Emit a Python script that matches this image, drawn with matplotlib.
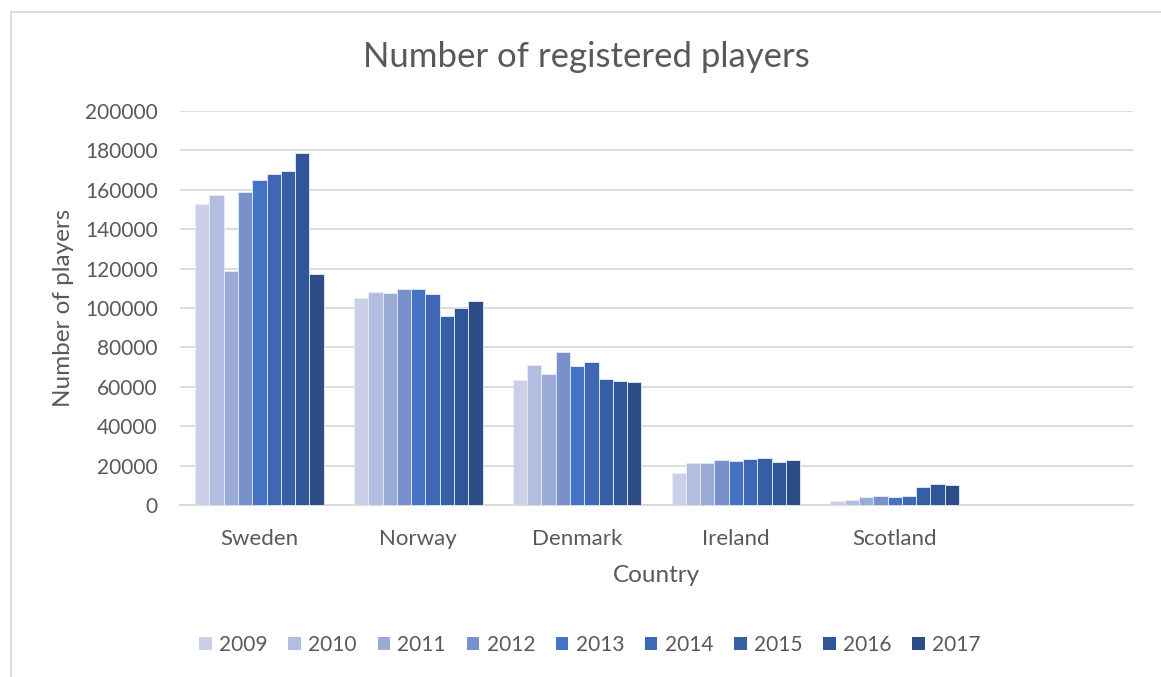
import numpy as np
import matplotlib
matplotlib.use("Agg")
import matplotlib.pyplot as plt
from matplotlib.lines import Line2D
from matplotlib.patches import Patch

countries = ["Sweden", "Norway", "Denmark", "Ireland", "Scotland"]
years = ["2009", "2010", "2011", "2012", "2013", "2014", "2015", "2016", "2017"]

# players per year, one list per year (Sweden, Norway, Denmark, Ireland, Scotland)
players = {
    "2009": [152600, 105100, 63500, 16400, 2000],
    "2010": [157400, 108100, 71100, 21300, 2500],
    "2011": [118800, 107600, 66500, 21300, 4000],
    "2012": [159000, 109800, 77700, 22800, 4500],
    "2013": [165100, 109800, 70600, 22500, 4000],
    "2014": [167900, 106900, 72600, 23200, 4700],
    "2015": [169700, 96100, 64000, 24000, 9100],
    "2016": [178700, 100000, 63100, 21700, 10800],
    "2017": [117400, 103600, 62300, 22700, 10300],
}
y_ticks = list(range(0, 200001, 20000))

colors = ["#CBD0E8", "#B2BDDF", "#9AABD6", "#7891CC", "#4472C4",
          "#3E67B6", "#375FA6", "#30569A", "#2C4D88"]
text_col = "#595959"
grid_col = "#D9D9D9"

plt.rcParams["font.family"] = ["Lato", "DejaVu Sans"]

fig = plt.figure(figsize=(11.61, 6.77), dpi=100)
ax = fig.add_axes([180 / 1161, 1 - 505 / 677, (1133 - 180) / 1161, (505 - 111) / 677])

n = len(years)
width = 0.81 / n
x = np.arange(len(countries))
for i, yr in enumerate(years):
    ax.bar(x - 0.405 + width * (i + 0.5), players[yr], width,
           color=colors[i], edgecolor="#E8ECF6", linewidth=0.6, zorder=3, label=yr)

# Excel leaves an extra empty category slot on the right
ax.set_xlim(-0.5, len(countries) + 0.5)
ax.set_ylim(0, 200000)
ax.set_yticks(y_ticks)
ax.set_yticklabels([str(v) for v in y_ticks])
ax.set_xticks(x)
ax.set_xticklabels(countries)

ax.grid(axis="y", color=grid_col, linewidth=1.3, zorder=0)
for s in ["top", "right", "left"]:
    ax.spines[s].set_visible(False)
ax.spines["bottom"].set_color(grid_col)
ax.spines["bottom"].set_linewidth(1.3)
ax.tick_params(length=0, colors=text_col)
ax.tick_params(axis="y", pad=16, labelsize=15)
ax.tick_params(axis="x", pad=17, labelsize=16)

ax.set_xlabel("Country", fontsize=17.5, color=text_col, labelpad=12)
ax.set_ylabel("Number of players", fontsize=17.5, color=text_col, labelpad=8)

fig.text(0.505, 1 - 57 / 677, "Number of registered players", ha="center", va="center",
         fontsize=25, color=text_col)

handles = [Patch(facecolor=c, edgecolor="none") for c in colors]
fig.legend(handles, years, loc="center", bbox_to_anchor=(590 / 1161, 1 - 645 / 677), ncol=n,
           frameon=False, fontsize=15, labelcolor=text_col, handlelength=0.6,
           handleheight=0.6, handletextpad=0.35, columnspacing=1.0)

# chart border (only left and top edges are visible in the crop)
fig.add_artist(Line2D([11 / 1161, 11 / 1161], [0, 1 - 12 / 677], color=grid_col, linewidth=1.3))
fig.add_artist(Line2D([11 / 1161, 1], [1 - 12 / 677, 1 - 12 / 677], color=grid_col, linewidth=1.3))

fig.savefig("out.png", dpi=100)
